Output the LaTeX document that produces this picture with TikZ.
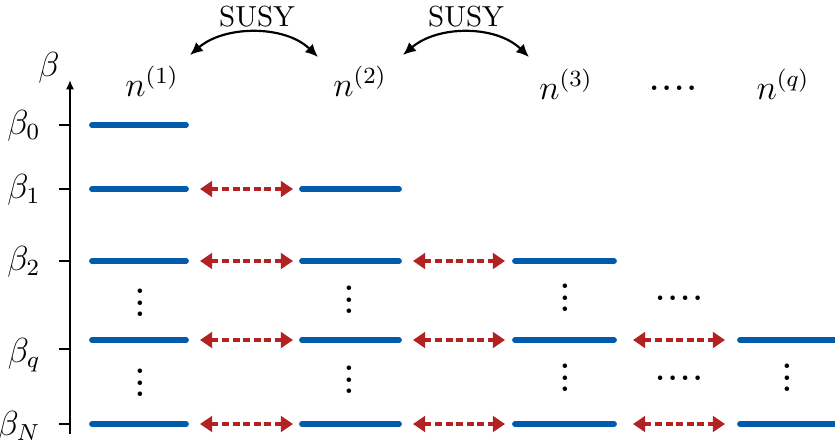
\documentclass[tikz,border=0pt]{standalone}
\usetikzlibrary{arrows.meta,calc}
\definecolor{levelblue}{RGB}{0,92,170}
\definecolor{pairred}{RGB}{178,34,34}
% stacked and spread dots without the extra top kern of \vdots
\newcommand{\threedots}{\vbox{\baselineskip4pt\lineskiplimit0pt\hbox{\bfseries.}\hbox{\bfseries.}\hbox{\bfseries.}}}
\newcommand{\fourdots}{\hbox{\bfseries.\kern1.1pt.\kern1.1pt.\kern1.1pt.}}
\begin{document}
\begin{tikzpicture}[x=0.3449pt,y=-0.3449pt,
  level/.style={levelblue,line width=2pt,line cap=round},
  pair/.style={pairred,line width=1.25pt,dash pattern=on 2.4pt off 1.25pt,
    {Triangle[length=4.2pt,width=5.4pt]}-{Triangle[length=4.2pt,width=5.4pt]}},
  susy/.style={line width=0.75pt,{Latex[length=4.4pt,width=4pt]}-{Latex[length=4.4pt,width=4pt]}},
  blabel/.style={anchor=east,inner sep=0pt,font=\large},
  header/.style={anchor=base,inner sep=0pt,font=\large},
  dotsnode/.style={inner sep=0pt}]
\useasboundingbox (0,0) rectangle (835,446);

% energy axis with ticks
\coordinate (axbot) at (70,434);
\coordinate (axtop) at (70,80);
\draw[line width=0.6pt,-{Latex[length=3.2pt,width=2.8pt]}] (axbot) -- (axtop);
\node[inner sep=0pt,font=\large] (beta) at (49,68) {$\beta$};
\foreach \n/\y/\lab/\ly in {b0/125/{\beta_0}/126, b1/189/{\beta_1}/190, b2/261/{\beta_2}/262,
    bq/349/{\beta_q}/355, bN/424/{\beta_N}/427}{
  \coordinate (t\n) at (70,\y);
  \draw[line width=0.6pt] (t\n) -- ++(-11,0);
  \node[blabel] (l\n) at (41,\ly) {$\lab$};
}

% column headers
\node[header] (h1) at (152,96) {$n^{(1)}$};
\node[header] (h2) at (360,96) {$n^{(2)}$};
\node[header] (h3) at (566,99) {$n^{(3)}$};
\node[dotsnode] (hdots) at (673,88) {\fourdots};
\node[header] (hq) at (783,99) {$n^{(q)}$};

% supersymmetry maps between neighbouring columns
\coordinate (s1a) at (190,55);
\coordinate (s1b) at (318,57);
\coordinate (s2a) at (403,55);
\coordinate (s2b) at (529,57);
\draw[susy] (s1a) .. controls (225,25) and (285,25) .. (s1b);
\draw[susy] (s2a) .. controls (438,25) and (496,25) .. (s2b);
\node[inner sep=0pt] (susy1) at (257,17) {SUSY};
\node[inner sep=0pt] (susy2) at (466,17) {SUSY};

% energy levels of each column
\foreach \c/\xa/\xb/\rows in {1/92/186/{0/125,1/189,2/261,q/340,N/424},
    2/302/399/{1/189,2/261,q/340,N/424},
    3/515/614/{2/261,q/340,N/424},
    4/740/838/{q/340,N/424}}{
  \foreach \r/\y in \rows {
    \coordinate (c\c l\r) at (\xa,\y);
    \coordinate (c\c r\r) at (\xb,\y);
    \draw[level] (c\c l\r) -- (c\c r\r);
  }
}

% degenerate partners between columns
\foreach \r in {1,2,q,N}{
  \draw[pair] ($(c1r\r)+(14,0)$) -- ($(c2l\r)+(-9,0)$);
}
\foreach \r in {2,q,N}{
  \draw[pair] ($(c2r\r)+(14,0)$) -- ($(c3l\r)+(-10,0)$);
}
\foreach \r in {q,N}{
  \draw[pair] ($(c3r\r)+(19,0)$) -- ($(c4l\r)+(-15,0)$);
}

% omitted levels
\node[dotsnode] (v1a) at (140,303) {\threedots};
\node[dotsnode] (v1b) at (140,383) {\threedots};
\node[dotsnode] (v2a) at (349,300) {\threedots};
\node[dotsnode] (v2b) at (349,380) {\threedots};
\node[dotsnode] (v3a) at (565,298) {\threedots};
\node[dotsnode] (v3b) at (565,378) {\threedots};
\node[dotsnode] (v4b) at (787,378) {\threedots};
\node[dotsnode] (hda) at (679,298) {\fourdots};
\node[dotsnode] (hdb) at (679,378) {\fourdots};
\end{tikzpicture}
\end{document}
